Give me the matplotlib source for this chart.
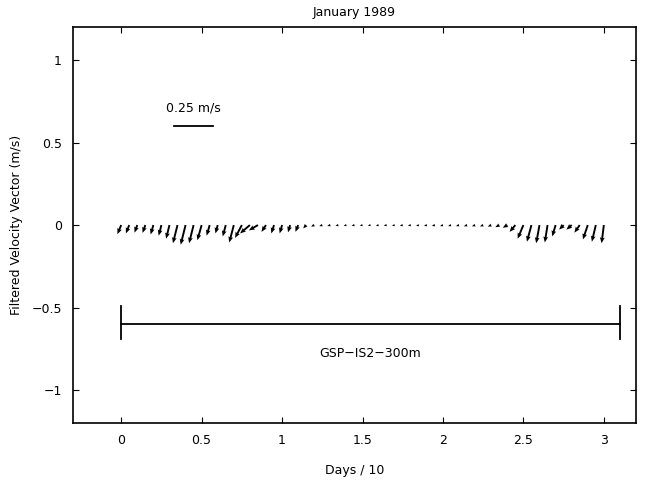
import numpy as np
import matplotlib
matplotlib.use("Agg")
import matplotlib.pyplot as plt

# half-day filtered velocity vectors (m/s), time in days/10
dt = 0.05
u = [-0.025, -0.022, -0.018, -0.018, -0.018, -0.018, -0.022, -0.030, -0.032, -0.030,
     -0.028, -0.020, -0.015, -0.020, -0.030, -0.045, -0.065, -0.060, -0.030, -0.018,
     -0.016, -0.014, -0.018, -0.020, -0.021, -0.020, -0.020, -0.019, -0.018, -0.019,
     -0.018, -0.018, -0.018, -0.019, -0.018, -0.019, -0.019, -0.018, -0.019, -0.020,
     -0.019, -0.019, -0.020, -0.021, -0.021, -0.021, -0.023, -0.026, -0.030, -0.038,
     -0.038, -0.030, -0.022, -0.018, -0.022, -0.030, -0.035, -0.035, -0.032, -0.026,
     -0.015]
v = [-0.060, -0.055, -0.050, -0.052, -0.062, -0.070, -0.090, -0.120, -0.130, -0.120,
     -0.100, -0.070, -0.055, -0.075, -0.115, -0.085, -0.055, -0.035, -0.045, -0.055,
     -0.055, -0.048, -0.045, -0.022, -0.010, -0.007, -0.006, -0.005, -0.005, -0.004,
     -0.004, -0.004, -0.005, -0.004, -0.004, -0.005, -0.005, -0.006, -0.006, -0.006,
     -0.007, -0.007, -0.007, -0.008, -0.008, -0.009, -0.010, -0.014, -0.018, -0.045,
     -0.090, -0.110, -0.120, -0.115, -0.075, -0.030, -0.030, -0.050, -0.095, -0.110,
     -0.120]
t = np.arange(len(u)) * dt

t_start, t_end = 0.0, 3.1
bar_y = -0.6
scale_speed = 0.25
px_per_ms = 152.0   # scale bar: 0.25 m/s ~ 38 px
px_per_y = 166.0

plt.rcParams['font.family'] = ['DejaVu Sans']
plt.rcParams['font.size'] = 9

fig = plt.figure(figsize=(6.51, 4.83), dpi=100)
ax = fig.add_axes([0.112, 0.124, 0.865, 0.82])

ax.quiver(t, np.zeros(len(t)), u, v, angles='uv', scale_units='y',
          scale=px_per_y / px_per_ms,
          width=0.0034, headwidth=2.5, headlength=3.0, headaxislength=2.7,
          minlength=0.8, color='black')

# record length bar
ax.plot([t_start, t_end], [bar_y, bar_y], color='black', lw=1.3)
ax.plot([t_start, t_start], [bar_y + 0.11, bar_y - 0.09], color='black', lw=1.3)
ax.plot([t_end, t_end], [bar_y + 0.11, bar_y - 0.09], color='black', lw=1.3)
ax.text((t_start + t_end) / 2, -0.78, 'GSP\u2212IS2\u2212300m', ha='center', va='center')

# velocity scale
ax.plot([0.33, 0.33 + scale_speed * 0.96], [0.6, 0.6], color='black', lw=1.3)
ax.text(0.33 + scale_speed * 0.48, 0.67, '0.25 m/s', ha='center', va='bottom')

ax.set_xlim(-0.3, 3.2)
ax.set_ylim(-1.2, 1.2)
ax.set_xticks([0, 0.5, 1, 1.5, 2, 2.5, 3])
ax.set_xticklabels(['0', '0.5', '1', '1.5', '2', '2.5', '3'])
ax.set_yticks([-1, -0.5, 0, 0.5, 1])
ax.set_yticklabels(['\u22121', '\u22120.5', '0', '0.5', '1'])
ax.tick_params(direction='in', length=4, top=True, right=True, pad=8)
for s in ax.spines.values():
    s.set_linewidth(1.2)

ax.set_title('January 1989', fontsize=9, pad=8)
ax.set_xlabel('Days / 10', labelpad=12)
ax.set_ylabel('Filtered Velocity Vector (m/s)', labelpad=6)

fig.savefig('out.png', dpi=100)
